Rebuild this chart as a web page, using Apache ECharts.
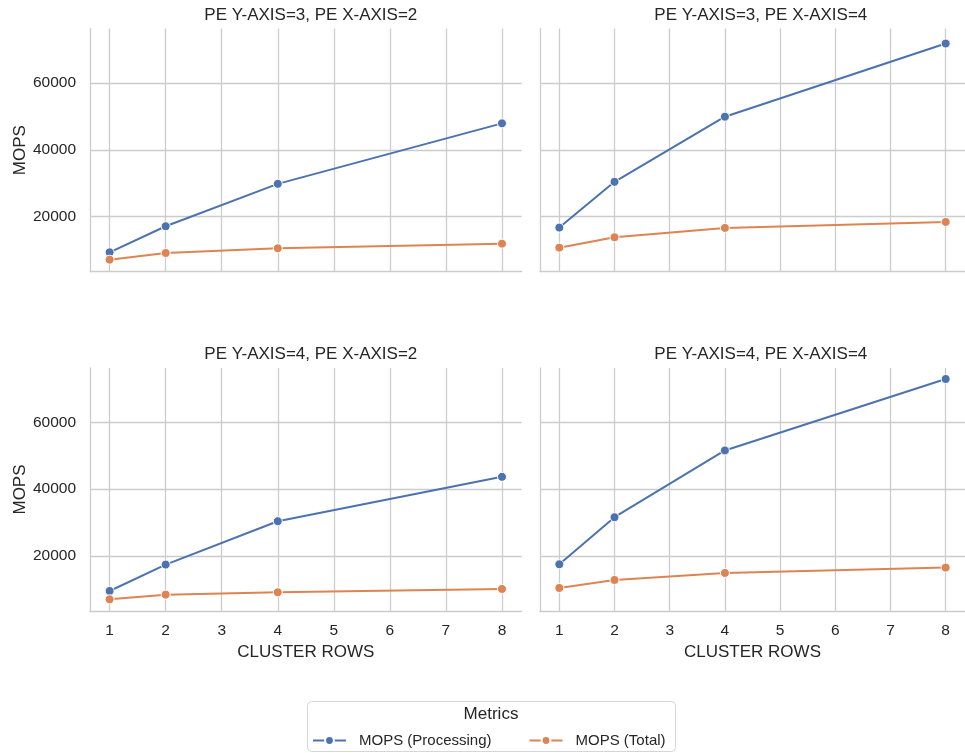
<!DOCTYPE html>
<html>
<head>
<meta charset="utf-8">
<title>MOPS vs Cluster Rows</title>
<script src="https://cdn.jsdelivr.net/npm/echarts@6/dist/echarts.min.js"></script>
<style>
  html, body { margin: 0; padding: 0; background: #fff; }
  #chart { width: 965px; height: 753px; }
</style>
</head>
<body>
<div id="chart"></div>
<script>
  // data
  const clusterRows = [1, 2, 4, 8];
  const xTicks = [1, 2, 3, 4, 5, 6, 7, 8];
  const yTicks = [20000, 40000, 60000];
  const seriesNames = ["MOPS (Processing)", "MOPS (Total)"];
  const panelTitles = [
    "PE Y-AXIS=3, PE X-AXIS=2",
    "PE Y-AXIS=3, PE X-AXIS=4",
    "PE Y-AXIS=4, PE X-AXIS=2",
    "PE Y-AXIS=4, PE X-AXIS=4",
  ];
  const procY3X2 = [9300, 17100, 29800, 47900];
  const totalY3X2 = [7100, 9100, 10500, 11900];
  const procY3X4 = [16700, 30400, 49900, 71800];
  const totalY3X4 = [10700, 13800, 16600, 18400];
  const procY4X2 = [9500, 17400, 30400, 43700];
  const totalY4X2 = [7000, 8400, 9100, 10100];
  const procY4X4 = [17500, 31600, 51600, 73000];
  const totalY4X4 = [10400, 12800, 14900, 16500];

  const panelData = [
    [procY3X2, totalY3X2],
    [procY3X4, totalY3X4],
    [procY4X2, totalY4X2],
    [procY4X4, totalY4X4],
  ];

  const colors = ["#4c72b0", "#dd8452"];
  const gridColor = "#cccccc";
  const textColor = "#262626";
  const font = "Liberation Sans, Arial, sans-serif";

  // panel boxes (px)
  const boxes = [
    { left: 90, top: 28.5, width: 431.6, height: 243.2 },
    { left: 540, top: 28.5, width: 431.6, height: 243.2 },
    { left: 90, top: 368, width: 431.6, height: 243 },
    { left: 540, top: 368, width: 431.6, height: 243 },
  ];

  const grids = boxes.map((b) => ({
    left: b.left,
    top: b.top,
    width: b.width,
    height: b.height,
    containLabel: false,
  }));

  const titles = boxes.map((b, i) => ({
    text: panelTitles[i],
    left: b.left + b.width / 2,
    top: b.top - 27,
    textAlign: "center",
    textStyle: {
      fontFamily: font,
      fontWeight: "normal",
      fontSize: 17,
      color: textColor,
    },
  }));

  const xAxes = boxes.map((b, i) => {
    const bottomRow = i >= 2;
    return {
      type: "value",
      gridIndex: i,
      min: 0.65,
      max: 8.35,
      name: bottomRow ? "CLUSTER ROWS" : "",
      nameLocation: "middle",
      nameGap: 33,
      nameTextStyle: { fontFamily: font, fontSize: 17, color: textColor },
      axisLine: { show: true, lineStyle: { color: gridColor, width: 1.3 } },
      axisTick: { show: false, customValues: xTicks },
      axisLabel: {
        show: bottomRow,
        customValues: xTicks,
        margin: 12,
        fontFamily: font,
        fontSize: 15.5,
        color: textColor,
      },
      splitLine: { show: true, lineStyle: { color: gridColor, width: 1.3 } },
    };
  });

  const yAxes = boxes.map((b, i) => {
    const leftCol = i % 2 === 0;
    return {
      type: "value",
      gridIndex: i,
      min: 3500,
      max: 76300,
      name: leftCol ? "MOPS" : "",
      nameLocation: "middle",
      nameGap: 61,
      nameTextStyle: { fontFamily: font, fontSize: 17, color: textColor },
      axisLine: { show: true, lineStyle: { color: gridColor, width: 1.3 } },
      axisTick: { show: false, customValues: yTicks },
      axisLabel: {
        show: leftCol,
        customValues: yTicks,
        formatter: (v) => String(v),
        margin: 14,
        fontFamily: font,
        fontSize: 15.5,
        color: textColor,
      },
      splitLine: { show: true, lineStyle: { color: gridColor, width: 1.3 } },
    };
  });

  const series = [];
  panelData.forEach((pair, i) => {
    pair.forEach((vals, k) => {
      series.push({
        name: seriesNames[k],
        type: "line",
        xAxisIndex: i,
        yAxisIndex: i,
        data: clusterRows.map((x, j) => [x, vals[j]]),
        symbol: "circle",
        symbolSize: 9,
        showSymbol: true,
        lineStyle: { width: 2, color: colors[k] },
        itemStyle: { color: colors[k], borderColor: "#fff", borderWidth: 1 },
        z: 3 + k,
      });
    });
  });

  const option = {
    animation: false,
    color: colors,
    textStyle: { fontFamily: font },
    title: titles,
    grid: grids,
    xAxis: xAxes,
    yAxis: yAxes,
    legend: {
      data: seriesNames,
      left: 307,
      top: 728,
      itemWidth: 33,
      itemHeight: 11,
      itemGap: 37,
      textStyle: {
        fontFamily: font,
        fontSize: 15,
        color: textColor,
        padding: [0, 0, 0, 8],
      },
    },
    graphic: [
      {
        type: "rect",
        shape: { x: 307.5, y: 701.5, width: 368, height: 50, r: 4 },
        style: { fill: "#fff", stroke: "#d6d6d6", lineWidth: 1 },
        z: -1,
      },
      {
        type: "text",
        x: 491,
        y: 714,
        style: {
          text: "Metrics",
          fontFamily: font,
          fontSize: 17,
          fill: textColor,
          align: "center",
          verticalAlign: "middle",
        },
      },
    ],
    series: series,
  };

  const chart = echarts.init(document.getElementById("chart"));
  chart.setOption(option);
</script>
</body>
</html>
